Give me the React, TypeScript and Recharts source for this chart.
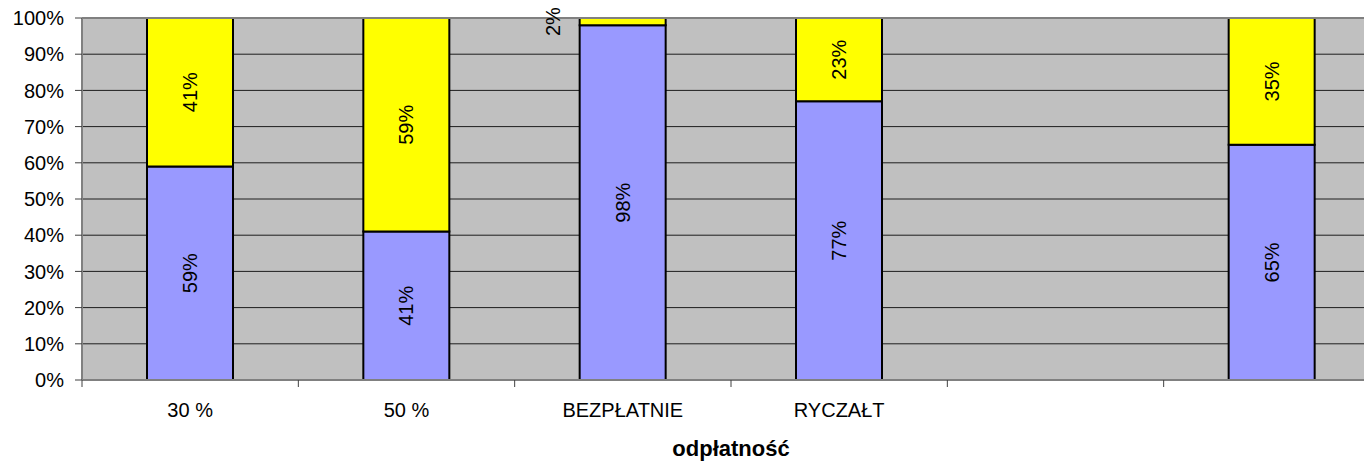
import { BarChart, Bar, XAxis, YAxis, CartesianGrid, LabelList, ReferenceLine, Label } from "recharts";

// categories on the x axis (two last ones have no caption)
const categories = ["30 %", "50 %", "BEZPŁATNIE", "RYCZAŁT", "", ""];
const blueValues = [59, 41, 98, 77, null, 65];
const yellowValues = [41, 59, 2, 23, null, 35];
const yTicks = [0, 10, 20, 30, 40, 50, 60, 70, 80, 90, 100];

const data = categories.map((name, i) => ({
  id: i,
  name,
  blue: blueValues[i],
  yellow: yellowValues[i],
}));

const FONT = "'Liberation Sans', Arial, sans-serif";

function XTick(props: any) {
  const { x, y, payload, width, visibleTicksCount } = props;
  const count = visibleTicksCount || categories.length;
  const half = width / count / 2;
  const label = categories[payload.value] ?? "";
  return (
    <g>
      <line x1={x - half} x2={x - half} y1={y} y2={y + 7} stroke="#404040" strokeWidth={1} />
      <text x={x} y={y + 37} textAnchor="middle" fontSize={20} fontFamily={FONT} fill="#000">
        {label}
      </text>
    </g>
  );
}

function SegmentLabel(props: any) {
  const { x, y, width, height, value } = props;
  if (value == null) return null;
  const small = height < 20;
  const cx = small ? x - 27 : x + width / 2;
  const cy = y + height / 2;
  return (
    <text
      x={cx}
      y={cy}
      transform={`rotate(-90, ${cx}, ${cy})`}
      textAnchor="middle"
      dominantBaseline="central"
      fontSize={20}
      fontFamily={FONT}
      fill="#000"
    >
      {`${Math.round(value)}%`}
    </text>
  );
}

export default function App() {
  return (
    <div style={{ position: "absolute", left: 0, top: 0, width: 1364, height: 462, overflow: "hidden", background: "#fff" }}>
      <BarChart
        width={1380}
        height={462}
        data={data}
        margin={{ top: 18, right: 0, left: 0, bottom: 0 }}
        barSize={86}
      >
        <CartesianGrid vertical={false} fill="#C0C0C0" stroke="#000" strokeOpacity={0.85} />
        <XAxis
          dataKey="id"
          type="category"
          height={82}
          interval={0}
          tickLine={false}
          tickSize={0}
          tickMargin={0}
          tick={<XTick />}
          axisLine={{ stroke: "#808080", strokeWidth: 2 }}
        >
          <Label
            value="odpłatność"
            position="insideBottom"
            offset={6}
            style={{ fontSize: 22, fontWeight: "bold", fontFamily: FONT, fill: "#000" }}
          />
        </XAxis>
        <YAxis
          width={82}
          domain={[0, 100]}
          ticks={yTicks}
          interval={0}
          tickFormatter={(v) => `${v}%`}
          tickSize={7}
          tickMargin={11}
          tickLine={{ stroke: "#404040" }}
          axisLine={{ stroke: "#808080", strokeWidth: 2 }}
          tick={{ fontSize: 20, fontFamily: FONT, fill: "#000" }}
        />
        <ReferenceLine y={100} stroke="#808080" strokeWidth={2} />
        <Bar dataKey="blue" stackId="a" fill="#9999FF" stroke="#000" strokeWidth={2} isAnimationActive={false}>
          <LabelList dataKey="blue" content={<SegmentLabel />} />
        </Bar>
        <Bar dataKey="yellow" stackId="a" fill="#FFFF00" stroke="#000" strokeWidth={2} isAnimationActive={false}>
          <LabelList dataKey="yellow" content={<SegmentLabel />} />
        </Bar>
      </BarChart>
    </div>
  );
}
